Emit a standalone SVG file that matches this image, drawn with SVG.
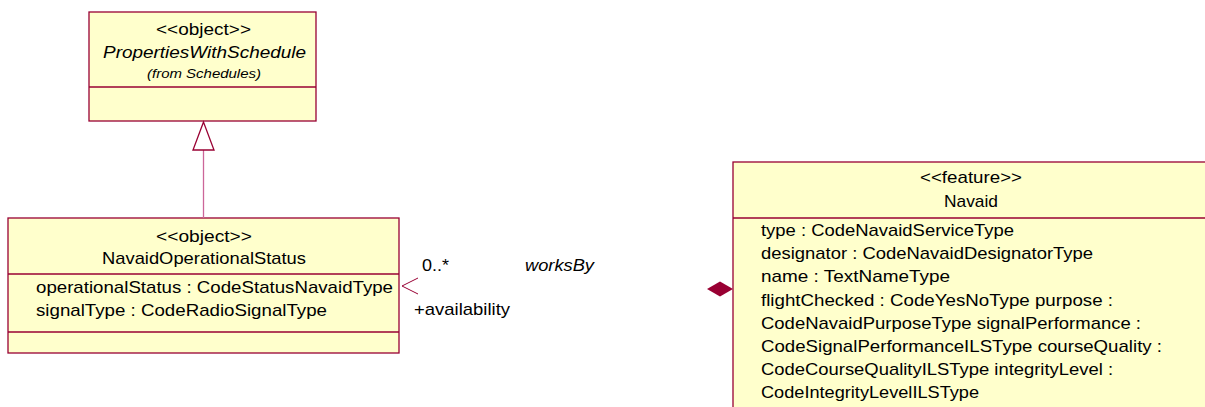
<svg xmlns="http://www.w3.org/2000/svg" width="1205" height="407" viewBox="0 0 1205 407">
<style>
.box{fill:#FFFFCC;stroke:#990033;stroke-width:1.3}
.div{stroke:#990033;stroke-width:1.3}
text{font-family:"Liberation Sans",Arial,sans-serif;font-size:17px;fill:#000}
.i{font-style:italic}
.s{font-size:12px;font-style:italic}
</style>
<rect width="1205" height="407" fill="#fff"/>
<g id="PropertiesWithSchedule">
<rect class="box" x="89" y="12" width="227" height="109"/>
<line class="div" x1="89" y1="87" x2="316" y2="87"/>
<text x="156" y="35" textLength="95" lengthAdjust="spacingAndGlyphs">&lt;&lt;object&gt;&gt;</text>
<text class="i" x="103" y="58" textLength="203" lengthAdjust="spacingAndGlyphs">PropertiesWithSchedule</text>
<text class="s" x="147" y="78" textLength="114" lengthAdjust="spacingAndGlyphs">(from Schedules)</text>
</g>
<g id="NavaidOperationalStatus">
<rect class="box" x="8" y="218" width="391" height="135"/>
<line class="div" x1="8" y1="274" x2="399" y2="274"/>
<line class="div" x1="8" y1="332" x2="399" y2="332"/>
<text x="156" y="242" textLength="96" lengthAdjust="spacingAndGlyphs">&lt;&lt;object&gt;&gt;</text>
<text x="102" y="264" textLength="204" lengthAdjust="spacingAndGlyphs">NavaidOperationalStatus</text>
<text x="36" y="293" textLength="357" lengthAdjust="spacingAndGlyphs">operationalStatus  : CodeStatusNavaidType</text>
<text x="36" y="316" textLength="291" lengthAdjust="spacingAndGlyphs">signalType : CodeRadioSignalType</text>
</g>
<g id="Navaid">
<rect class="box" x="733" y="162" width="520" height="300"/>
<line class="div" x1="733" y1="218" x2="1253" y2="218"/>
<text x="920" y="183" textLength="102" lengthAdjust="spacingAndGlyphs">&lt;&lt;feature&gt;&gt;</text>
<text x="944" y="207" textLength="54" lengthAdjust="spacingAndGlyphs">Navaid</text>
<text x="761" y="236" textLength="253" lengthAdjust="spacingAndGlyphs">type : CodeNavaidServiceType</text>
<text x="761" y="259" textLength="332" lengthAdjust="spacingAndGlyphs">designator : CodeNavaidDesignatorType</text>
<text x="761" y="282" textLength="189" lengthAdjust="spacingAndGlyphs">name : TextNameType</text>
<text x="761" y="306" textLength="352" lengthAdjust="spacingAndGlyphs">flightChecked : CodeYesNoType purpose :</text>
<text x="761" y="329" textLength="380" lengthAdjust="spacingAndGlyphs">CodeNavaidPurposeType  signalPerformance :</text>
<text x="761" y="352" textLength="401" lengthAdjust="spacingAndGlyphs">CodeSignalPerformanceILSType  courseQuality :</text>
<text x="761" y="375" textLength="352" lengthAdjust="spacingAndGlyphs">CodeCourseQualityILSType  integrityLevel :</text>
<text x="761" y="398" textLength="218" lengthAdjust="spacingAndGlyphs">CodeIntegrityLevelILSType</text>
</g>
<g id="connectors">
<line x1="203.5" y1="150" x2="203.5" y2="218" stroke="#CC6699" stroke-width="1.3"/>
<polygon points="203.5,122 193,150 214,150" fill="#fff" stroke="#990033" stroke-width="1.3"/>
<polyline points="418,278 402,286 418,294" fill="none" stroke="#990033" stroke-width="1"/>
<polygon points="707,289 720,281.5 733,289 720,296.5" fill="#990033"/>
<text x="422" y="271" textLength="27" lengthAdjust="spacingAndGlyphs">0..*</text>
<text class="i" x="525" y="271" textLength="69" lengthAdjust="spacingAndGlyphs">worksBy</text>
<text x="414" y="315" textLength="96" lengthAdjust="spacingAndGlyphs">+availability</text>
</g>
</svg>
